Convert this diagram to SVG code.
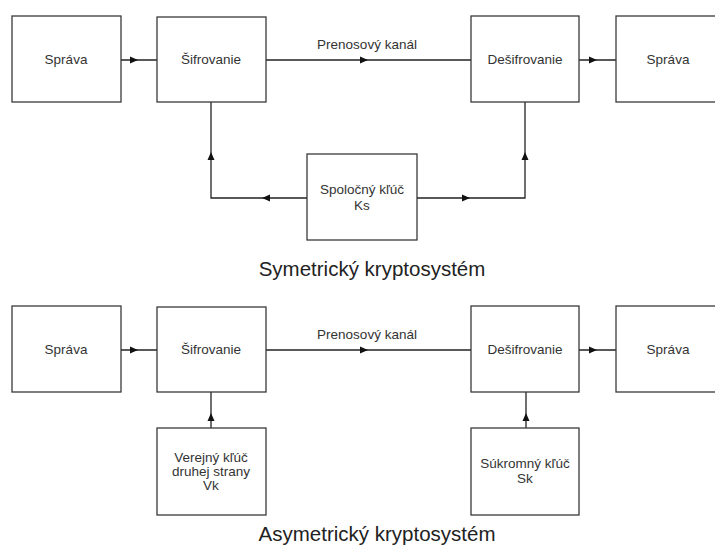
<svg xmlns="http://www.w3.org/2000/svg" width="715" height="548" viewBox="0 0 715 548">
<style>
.box{fill:#fff;stroke:#3a3a3a;stroke-width:1.3}
.ln{fill:none;stroke:#222;stroke-width:1.3}
.ah{fill:#111}
text{font-family:"Liberation Sans",Arial,sans-serif;fill:#333;text-anchor:middle}
.t{font-size:13.5px}
.title{font-size:20.5px;fill:#222}
</style>
<rect width="715" height="548" fill="#fff"/>
<g id="connectors">
<path class="ln" d="M121 60H157"/>
<path class="ln" d="M266 60H471"/>
<path class="ln" d="M579 60H616"/>
<path class="ln" d="M211 102V198H307"/>
<path class="ln" d="M417 198H525V102"/>
<path class="ln" d="M121 350H157"/>
<path class="ln" d="M266 350H471"/>
<path class="ln" d="M579 350H616"/>
<path class="ln" d="M211 392V428"/>
<path class="ln" d="M526 392V428"/>
<polygon class="ah" points="138,60 130,56.5 130,63.5"/>
<polygon class="ah" points="368,60 360,56.5 360,63.5"/>
<polygon class="ah" points="597,60 589,56.5 589,63.5"/>
<polygon class="ah" points="211,152 207.5,160 214.5,160"/>
<polygon class="ah" points="525,152 521.5,160 528.5,160"/>
<polygon class="ah" points="262,198 270,194.5 270,201.5"/>
<polygon class="ah" points="470,198 462,194.5 462,201.5"/>
<polygon class="ah" points="138,350 130,346.5 130,353.5"/>
<polygon class="ah" points="368,350 360,346.5 360,353.5"/>
<polygon class="ah" points="597,350 589,346.5 589,353.5"/>
<polygon class="ah" points="211,413 207.5,421 214.5,421"/>
<polygon class="ah" points="526,413 522.5,421 529.5,421"/>
<text class="t" x="367" y="49">Prenosový kanál</text>
<text class="t" x="367" y="339">Prenosový kanál</text>
</g>
<g id="sym-sprava1"><rect class="box" x="12" y="16" width="109" height="86"/><text class="t" x="66" y="64">Správa</text></g>
<g id="sym-sifrovanie"><rect class="box" x="157" y="17" width="109" height="85"/><text class="t" x="211" y="64">Šifrovanie</text></g>
<g id="sym-desifrovanie"><rect class="box" x="471" y="16" width="108" height="86"/><text class="t" x="525" y="64">Dešifrovanie</text></g>
<g id="sym-sprava2"><rect class="box" x="616" y="16" width="108" height="86"/><text class="t" x="668" y="64">Správa</text></g>
<g id="sym-kluc"><rect class="box" x="307" y="154" width="110" height="86"/><text class="t" x="362" y="194">Spoločný kľúč</text><text class="t" x="362" y="210">Ks</text></g>
<text class="title" x="372" y="276">Symetrický kryptosystém</text>
<g id="asym-sprava1"><rect class="box" x="12" y="306" width="109" height="86"/><text class="t" x="66" y="354">Správa</text></g>
<g id="asym-sifrovanie"><rect class="box" x="157" y="307" width="109" height="85"/><text class="t" x="211" y="354">Šifrovanie</text></g>
<g id="asym-desifrovanie"><rect class="box" x="471" y="306" width="108" height="86"/><text class="t" x="525" y="354">Dešifrovanie</text></g>
<g id="asym-sprava2"><rect class="box" x="616" y="306" width="108" height="86"/><text class="t" x="668" y="354">Správa</text></g>
<g id="asym-verejny"><rect class="box" x="157" y="428" width="109" height="87"/><text class="t" x="211" y="462">Verejný kľúč</text><text class="t" x="211" y="476">druhej strany</text><text class="t" x="211" y="490">Vk</text></g>
<g id="asym-sukromny"><rect class="box" x="471" y="428" width="108" height="87"/><text class="t" x="525" y="468">Súkromný kľúč</text><text class="t" x="525" y="483">Sk</text></g>
<text class="title" x="377" y="541">Asymetrický kryptosystém</text>
</svg>
